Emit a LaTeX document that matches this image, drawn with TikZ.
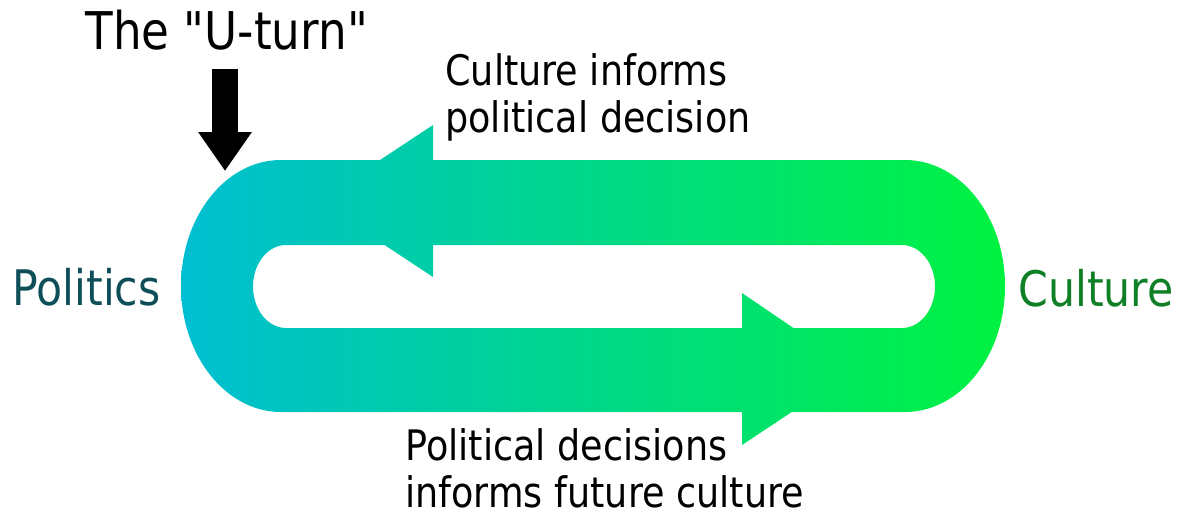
\documentclass[tikz,border=0pt]{standalone}
\usepackage{fontspec}
\setmainfont{DejaVu Sans}[FakeStretch=0.87, Ligatures=TeXOff]
\usepackage{tikz}
\usetikzlibrary{arrows.meta}
\definecolor{ciclociano}{RGB}{0,190,210}
\definecolor{cicloverde}{RGB}{0,242,64}
\definecolor{politicablu}{RGB}{14,78,88}
\definecolor{culturaverde}{RGB}{16,128,38}

\tikzset{
  polo/.style={inner sep=0pt, anchor=base west, font=\fontsize{24.5}{29}\selectfont},
  etichetta/.style={inner sep=0pt, anchor=north west, align=left, font=\fontsize{21}{23.5}\selectfont},
  freccianera/.style={line width=13pt, -{Triangle[width=25.5pt,length=19.5pt]}}
}

\begin{document}
\begin{tikzpicture}[x=0.5pt,y=0.5pt]
    \useasboundingbox (0,0) rectangle (1186,515);

    % Anello con le due punte, sfumato da sinistra a destra
    \shade[left color=ciclociano, right color=cicloverde]
        (281,355) -- (905,355) arc[start angle=90, end angle=-90, x radius=100, y radius=126]
        -- (281,103) arc[start angle=270, end angle=90, x radius=100, y radius=126] -- cycle
        (286,270) arc[start angle=90, end angle=270, x radius=33, y radius=41.5]
        -- (902,187) arc[start angle=-90, end angle=90, x radius=33, y radius=41.5] -- cycle
        (318,314) -- (433,390) -- (433,238) -- cycle
        (855,145) -- (742,70) -- (742,222) -- cycle;

    % Poli
    \node[polo, text=politicablu] (politica) at (12,210) {Politics};
    \node[polo, text=culturaverde] (cultura) at (1018,209) {Culture};

    % Etichette dei due rami
    \node[etichetta] (sopra) at (445,462) {Culture informs\\political decision};
    \node[etichetta] (sotto) at (405,87) {Political decisions\\informs future culture};

    % Titolo e freccia
    \node[inner sep=0pt, anchor=base west, font=\fontsize{26}{31}\selectfont] (titolo) at (85,465) {The "U-turn"};
    \coordinate (gambo) at (225,446);
    \coordinate (svolta) at (225,344);
    \draw[freccianera] (gambo) -- (svolta);
\end{tikzpicture}
\end{document}
